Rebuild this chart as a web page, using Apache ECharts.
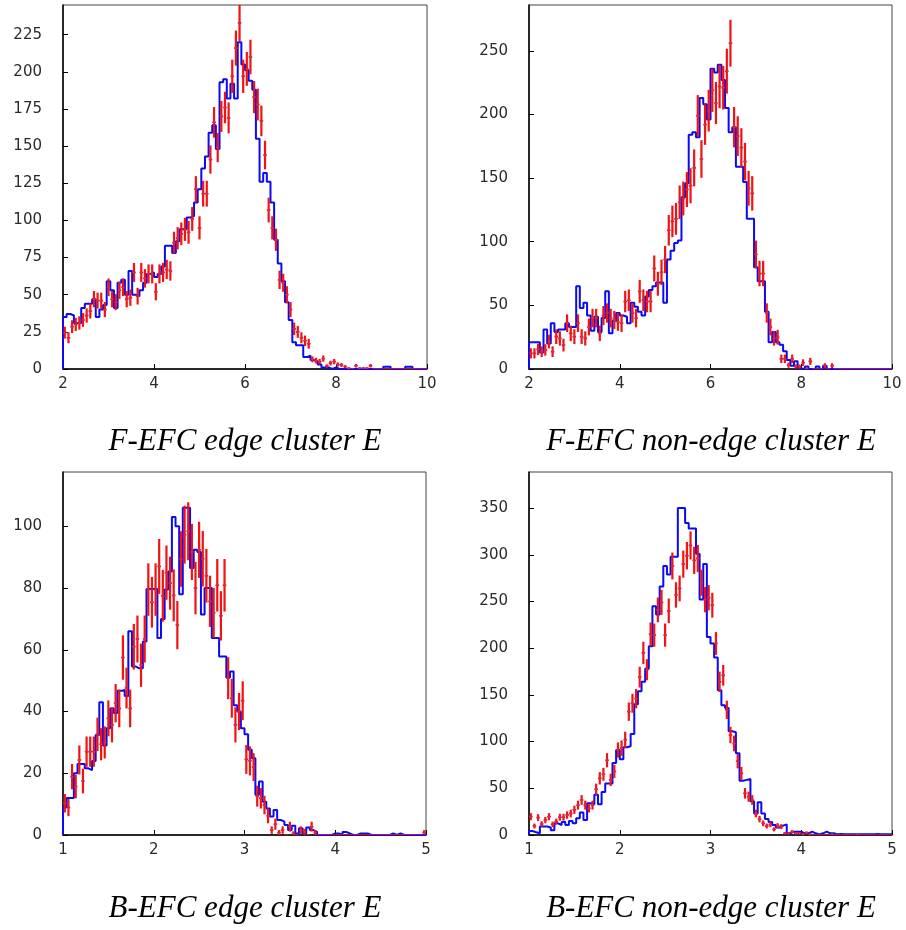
<!DOCTYPE html>
<html><head><meta charset="utf-8">
<script src="https://cdn.jsdelivr.net/npm/echarts@6/dist/echarts.min.js"></script>
<style>html,body{margin:0;padding:0;background:#fff}#c{width:906px;height:930px}</style>
</head><body><div id="c"></div><script>
// ---- F-EFC edge cluster E (x 2..10, 100 bins) ----
const blueFEdge = [35,37,36,31,31,41,44,44,47,35, 40,43,59,53,41,58,60,50,66,50, 49,53,58,64,65,62,64,69,83,83,
  78,86,94,94,102,103,112,121,135,143, 159,164,148,193,195,182,192,182,220,205, 201,194,188,155,126,132,126,112,87,71,
  59,45,33,18,16,16,8,9,6,5, 3,1,1,0,1,0,0,0,0,0, 0,0,0,0,0,0,0,0,1.5,1.5, 0,0,0,0,1.5,1.5,0,0,0,0];
const redFEdge = [24.5,21,28.5,30,31,33,36,39,47,46, 46,40,55,47,45,53,55,47,48,65, 49,65,61,64,64,52,64,65,67,66,
  85,88,91,94,92,101,121,95,118,118, 141,166,149,170,176,169,197,216,233,197, 202,210,183,178,167,144,107,95,87,60,
  58,50,40,27,25,21,19,17,6.5,5.6, 5,7,2,4,5,3,2.7,1.6,0.5,0, 2.2,0.5,0.5,0.5,2.2,0,0,0,0,0, 0,0,0,0,0,0,0,0,0,0];
const errFEdge = [4.0,3.7,4.3,4.4,4.5,4.6,4.8,5.0,5.5,5.4, 5.4,5.1,5.9,5.5,5.4,5.8,5.9,5.5,5.5,6.4, 5.6,6.4,6.2,6.4,6.4,5.8,6.4,6.4,6.5,6.5,
  7.4,7.5,7.6,7.8,7.7,8.0,8.8,7.8,8.7,8.7, 9.5,10.3,9.8,10.4,10.6,10.4,11.2,11.8,12.2,11.2, 11.4,11.6,10.8,10.7,10.3,9.6,8.3,7.8,7.5,6.2,
  6.1,5.7,5.1,4.2,4.0,3.7,3.5,3.3,2.0,1.9, 1.8,2.1,1.1,1.6,1.8,1.4,1.3,1.0,0.6,0, 1.2,0.6,0.6,0.6,1.2,0,0,0,0,0, 0,0,0,0,0,0,0,0,0,0];

// ---- F-EFC non-edge cluster E (x 2..10, 100 bins) ----
const blueFNon = [21,21,21,13,31,20,36,29,31,31, 36,33,33,65,48,52,42,30,41,29, 40,61,28,38,44,42,41,36,52,49,
  45,42,57,62,65,68,68,52,86,93, 99,101,135,146,184,186,182,213,208,196, 236,233,239,227,205,186,190,159,159,147,
  118,118,80,69,69,45,21,29,21,19, 14,7,2.6,6,0.5,0,2,0,0,2, 0,2.6,0,0,0,0,0,0,0,0, 0,0,0,0,0,0,0,0,0,0];
const redFNon = [12.3,12.3,15.4,13.6,15,21.5,13.6,25.4,24,18.8, 36,28,25.4,36,25.4,24,33,40,40,28, 42,44,40,38.5,37,36,53,54,44,40,
  61,54,53,53,79,67,76,86,109,116, 118,131,134,141,144,158,199,165,192,203, 219,209,222,221,234,256,190,183,174,163,
  142,138,90,75,75,44,33,24,25,8, 8,3,8,2,2,5,0.5,6,0,0, 0,2.6,0,2.6,0,0,0,0,0,0, 0,0,0,0,0,0,0,0,0,0];
const errFNon = [4.0,4.0,4.5,4.2,4.5,5.3,4.2,5.8,5.6,5.0, 6.9,6.1,5.8,6.9,5.8,5.6,6.6,7.3,7.3,6.1, 7.5,7.6,7.3,7.1,7.0,6.9,8.4,8.5,7.6,7.3,
  9.0,8.5,8.4,8.4,10.2,9.4,10.0,10.7,12.0,12.4, 12.5,13.2,13.3,13.7,13.8,14.5,16.2,14.8,15.9,16.4, 17.0,16.6,17.1,17.1,17.6,18.4,15.9,15.6,15.2,14.7,
  13.7,13.5,10.9,10.0,10.0,7.6,6.6,5.6,5.8,3.3, 3.3,2.0,3.3,1.6,1.6,2.6,0.8,2.8,0,0, 0,1.9,0,1.9,0,0,0,0,0,0, 0,0,0,0,0,0,0,0,0,0];

// ---- B-EFC edge cluster E (x 1..5, 100 bins) ----
const blueBEdge = [9,12,12,20,23,23,21.6,21,24,32.4, 43,29,34.6,41,39.5,46.7,47,45,66,54.6, 54,54,62.7,79.7,79.7,79.7,63.8,70,79.5,85.4,
  103,100,78,106,106,86.5,92.4,91.7,71.4,80, 80,63.8,63.8,57.8,57.8,51,53,42,40,34.6, 32.6,27.6,24.9,13,17.3,10.8,8.6,6,8.1,4.9,
  4.3,3.2,1.6,3,0.5,2.2,0.5,2.4,1.6,1, 0,0,0,0,0.5,0.5,0,1,0.5,0, 0,0.5,0.5,0.5,0,0,0,0,0,0, 0.5,0,0.5,0,0,0,0,0,0,0];
const redBEdge = [10.3,8.9,18.9,15.7,24.3,17.5,27,27,27,32.6, 29.4,30,37.8,35.7,42.7,41,57.5,47.6,41,61, 63.5,55,63.5,79.5,75.4,79.5,87,77.5,85,81.6,
  77.6,68,89.4,97.3,98.4,91.7,80,92.4,89.5,84, 75.7,72,80.9,71,80.9,50.8,44.3,35.7,40,43.5, 24.5,24,22,12.6,11.9,9.7,6.2,1.6,3.5,0.8,
  1.6,0,2.7,0.5,0,1.6,1,0,2.7,0.8, 0,0,0,0,0,0,0,0,0,0, 0,0,0,0,0,0,0,0,0,0, 0,0,0,0,0,0,0,0,0,0.8];
const errBEdge = [3.0,2.8,4.1,3.8,4.7,4.0,4.9,4.9,4.9,5.4, 5.2,5.2,5.8,5.7,6.2,6.1,7.2,6.6,6.1,7.4, 7.6,7.0,7.6,8.5,8.2,8.5,8.9,8.4,8.8,8.6,
  8.4,7.8,9.0,9.4,9.4,9.1,8.5,9.1,9.0,8.7, 8.3,8.1,8.5,8.0,8.5,6.8,6.3,5.7,6.0,6.3, 4.7,4.7,4.5,3.4,3.3,3.0,2.4,1.2,1.8,0.8,
  1.2,0,1.6,0.7,0,1.2,1.0,0,1.6,0.8, 0,0,0,0,0,0,0,0,0,0, 0,0,0,0,0,0,0,0,0,0, 0,0,0,0,0,0,0,0,0,0.8];

// ---- B-EFC non-edge cluster E (x 1..5, 100 bins) ----
const blueBNon = [4.3,3,1.8,9,9,8,5,12.5,10.7,14, 10.7,15,12.5,18,24,16,34,33,43,33, 46,55,55,77,91,81,94,95,108,140,
  154,164,178,202,245,236,266,288,279,298, 298,350,350,334,328,328,301,252,290,212, 205,190,155,139,136,111,110,87.5,58,59,
  60,36,23,35,23,17,14,10.7,8,10, 11.4,1.8,3.6,3.6,3.6,1.8,1.8,3.6,1.8,0.7, 1.8,3.6,1.8,1.8,0.7,1,0.7,0.7,0.7,0.7, 0.7,0.7,0.7,0.7,0.7,1,0.7,0.7,0.7,0.7];
const redBNon = [19.6,9.6,18.6,11.8,16,19.6,11.4,14.3,19,19, 21.4,23,27,32,37.5,32,28.6,32,49,60.7, 65,80,59,68,91,93,102,132,141,146,
  169,195,177,215,214,241,249,214,240,288, 257,264,290,299,310,294,296,270,252,254, 246,205,164,171,134,107,98,79,66,44.6,
  41,37.5,23,17,12.5,9.6,11.4,6,10,9, 1.8,1.8,3.6,1.8,1.8,0.7,2.5,0.7,0,0, 0,0,0,0.7,0,0,0,0,0,0, 0.5,0,0,0,0,0,0,0,0,0];
const errBNon = [3.8,2.6,3.7,2.9,3.4,3.8,2.9,3.2,3.7,3.7, 3.9,4.1,4.4,4.8,5.2,4.8,4.5,4.8,6.0,6.6, 6.9,7.6,6.5,7.0,8.1,8.2,8.6,9.8,10.1,10.3,
  11.1,11.9,11.3,12.5,12.4,13.2,13.4,12.4,13.2,14.4, 13.6,13.8,14.5,14.7,15.0,14.6,14.6,14.0,13.5,13.5, 13.3,12.2,10.9,11.1,9.8,8.8,8.4,7.6,6.9,5.7,
  5.4,5.2,4.1,3.5,3.0,2.6,2.9,2.1,2.7,2.6, 1.1,1.1,1.6,1.1,1.1,0.7,1.3,0.7,0,0, 0,0,0,0.7,0,0,0,0,0,0, 0.6,0,0,0,0,0,0,0,0,0];

const titles = ['F-EFC edge cluster E','F-EFC non-edge cluster E','B-EFC edge cluster E','B-EFC non-edge cluster E'];

const panels = [
  {xMin:2, xMax:10, xStep:2, yMax:245, yStep:25, bin:0.08, blue:blueFEdge, red:redFEdge, err:errFEdge},
  {xMin:2, xMax:10, xStep:2, yMax:286, yStep:50, bin:0.08, blue:blueFNon, red:redFNon, err:errFNon},
  {xMin:1, xMax:5, xStep:1, yMax:117.6, yStep:20, bin:0.04, blue:blueBEdge, red:redBEdge, err:errBEdge},
  {xMin:1, xMax:5, xStep:1, yMax:388.6, yStep:50, bin:0.04, blue:blueBNon, red:redBNon, err:errBNon}
];
const layout = [
  {left:63, top:5, width:364, height:364, tx:245, ty:426},
  {left:529, top:5, width:363, height:364, tx:711, ty:426},
  {left:63, top:472, width:363, height:363, tx:245, ty:893},
  {left:529, top:472, width:363, height:363, tx:711, ty:893}
];

const RED = '#f21212', BLUE = '#0a0af5';
const labelStyle = {color:'#2a2a2a', fontFamily:'DejaVu Sans, Liberation Sans, sans-serif', fontSize:15};

const option = {
  animation:false,
  backgroundColor:'#fff',
  title: titles.map((t,i)=>({text:t, left:layout[i].tx, top:layout[i].ty, textAlign:'center', padding:0,
    textStyle:{fontFamily:'Liberation Serif, Times New Roman, serif', fontStyle:'italic', fontWeight:'normal', fontSize:31, color:'#000'}})),
  grid: layout.map(l=>({left:l.left, top:l.top, width:l.width, height:l.height, show:true, borderColor:'#444', borderWidth:1,
    backgroundColor:'transparent', containLabel:false, outerBoundsMode:'none'})),
  xAxis: panels.map((p,i)=>({type:'value', gridIndex:i, min:p.xMin, max:p.xMax, interval:p.xStep,
    axisLine:{show:true, onZero:false, lineStyle:{color:'#000', width:1.5}},
    axisTick:{show:true, inside:true, length:5, lineStyle:{color:'#000', width:1}},
    axisLabel:Object.assign({margin:8}, labelStyle),
    splitLine:{show:false}})),
  yAxis: panels.map((p,i)=>({type:'value', gridIndex:i, min:0, max:p.yMax, interval:p.yStep,
    axisLine:{show:true, onZero:false, lineStyle:{color:'#000', width:1.5}},
    axisTick:{show:true, inside:true, length:5, lineStyle:{color:'#000', width:1}},
    axisLabel:Object.assign({margin:21, showMaxLabel:false,
      formatter:(v)=> (Math.abs(v/p.yStep - Math.round(v/p.yStep))<1e-6 ? String(v) : '')}, labelStyle),
    splitLine:{show:false}})),
  series: []
};

panels.forEach((p,i)=>{
  const pts = [[p.xMin, 0]];
  p.blue.forEach((v,k)=>pts.push([p.xMin + k*p.bin, v]));
  pts.push([p.xMin + p.blue.length*p.bin, p.blue[p.blue.length-1]]);
  option.series.push({type:'line', xAxisIndex:i, yAxisIndex:i, data:pts, step:'end', showSymbol:false, symbol:'none',
    clip:true, lineStyle:{color:BLUE, width:2}, z:2, silent:true});
  option.series.push({type:'custom', xAxisIndex:i, yAxisIndex:i, clip:true, z:3, silent:true,
    data: p.red.map((v,k)=>[p.xMin + (k+0.5)*p.bin, v, p.err[k], p.bin]),
    renderItem:(params, api)=>{
      const x = api.value(0), y = api.value(1), e = api.value(2), hw = api.value(3)/2;
      const L = api.coord([x-hw, y]), R = api.coord([x+hw, y]);
      const ch = [{type:'line', shape:{x1:L[0], y1:L[1], x2:R[0], y2:R[1]}, style:{stroke:RED, lineWidth:1.6}}];
      if (e > 0) {
        const T = api.coord([x, y+e]), B = api.coord([x, y-e]);
        ch.push({type:'line', shape:{x1:T[0], y1:T[1], x2:B[0], y2:B[1]}, style:{stroke:RED, lineWidth:2.2}});
        const C = api.coord([x, y]);
        ch.push({type:'circle', shape:{cx:C[0], cy:C[1], r:0.9}, style:{fill:'#b03a8a'}});
      }
      return {type:'group', children:ch};
    }});
});

const chart = echarts.init(document.getElementById('c'), null, {renderer:'canvas'});
chart.setOption(option);
</script></body></html>
